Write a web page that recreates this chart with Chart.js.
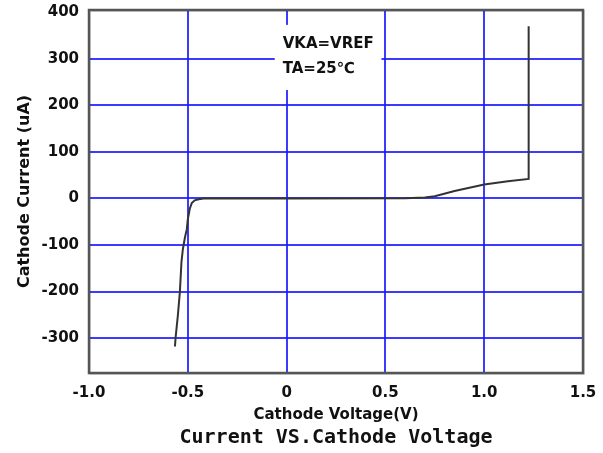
<!DOCTYPE html>
<html>
<head>
<meta charset="utf-8">
<script src="https://cdn.jsdelivr.net/npm/chart.js@4"></script>
<style>
  body { margin: 0; background: #fff; }
  #wrap { width: 603px; height: 453px; }
</style>
</head>
<body>
<div id="wrap"><canvas id="ivChart" width="603" height="453"></canvas></div>
<script>
// Curve (V, uA)
const voltage = [-0.565, -0.562, -0.55, -0.54, -0.532, -0.525, -0.515, -0.505, -0.5, -0.49, -0.48, -0.465, -0.445, -0.42, -0.4, 0.0, 0.6, 0.7, 0.75, 0.85, 1.0, 1.12, 1.225, 1.225];
const current = [-318, -300, -250, -200, -136, -109, -85, -66, -45, -22, -10, -4, -1.5, -0.3, 0, 0, 0.5, 2, 5, 16, 30, 37, 42, 370];

const xTicks = [-1.0, -0.5, 0, 0.5, 1.0, 1.5];
const xTickLabels = ["-1.0", "-0.5", "0", "0.5", "1.0", "1.5"];
const yTicks = [-300, -200, -100, 0, 100, 200, 300, 400];

const noteLines = ["VKA=VREF", "TA=25\u2103"];

const gridBlue = "rgba(25,25,255,0.85)";

// white note box with the test conditions, plus the plot frame
const notePlugin = {
  id: "note",
  beforeDatasetsDraw(chart) {
    const { ctx, scales: { x, y } } = chart;
    const left = x.getPixelForValue(-0.06);
    const right = x.getPixelForValue(0.48);
    const top = y.getPixelForValue(373);
    const bottom = y.getPixelForValue(233);
    ctx.save();
    ctx.fillStyle = "#fff";
    ctx.fillRect(left, top, right - left, bottom - top);
    ctx.fillStyle = "#111";
    ctx.font = "bold 15px 'DejaVu Sans'";
    ctx.textBaseline = "middle";
    ctx.textAlign = "left";
    const tx = x.getPixelForValue(-0.02);
    ctx.fillText(noteLines[0], tx, y.getPixelForValue(331));
    ctx.fillText(noteLines[1], tx, y.getPixelForValue(279));
    ctx.restore();
  },
  afterDraw(chart) {
    const { ctx, chartArea: a } = chart;
    ctx.save();
    ctx.strokeStyle = "rgba(0,0,0,0.15)";
    ctx.lineWidth = 2;
    ctx.strokeRect(a.left + 1, a.top + 1, a.right - a.left, a.bottom - a.top);
    ctx.strokeStyle = "#555";
    ctx.lineWidth = 2.5;
    ctx.strokeRect(a.left, a.top, a.right - a.left, a.bottom - a.top);
    ctx.restore();
  }
};

const ivChart = new Chart(document.getElementById("ivChart"), {
  type: "scatter",
  data: {
    datasets: [
      {
        data: voltage.map((v, i) => ({ x: v, y: current[i] })),
        showLine: true,
        borderColor: "#333",
        borderWidth: 2,
        pointRadius: 0,
        tension: 0,
      },
    ],
  },
  options: {
    responsive: false,
    animation: false,
    layout: { padding: { left: 0, right: 20, top: 10, bottom: 3 } },
    plugins: {
      legend: { display: false },
      tooltip: { enabled: false },
      title: {
        display: true,
        position: "bottom",
        fullSize: false,
        text: "Current VS.Cathode Voltage",
        color: "#111",
        font: { family: "'DejaVu Sans Mono'", size: 20, weight: "bold", lineHeight: 1.2 },
        padding: 0,
      },
    },
    scales: {
      x: {
        type: "linear",
        min: -1.0,
        max: 1.5,
        afterBuildTicks: (s) => { s.ticks = xTicks.map((v) => ({ value: v })); },
        afterFit: (s) => {
          s.height = 53;
          s.paddingLeft = 0;
          s.paddingRight = 0;
        },
        ticks: {
          callback: (v) => xTickLabels[xTicks.indexOf(v)],
          color: "#111",
          padding: 11,
          maxRotation: 0,
          font: { family: "'DejaVu Sans'", size: 15, weight: "bold" },
        },
        grid: { color: gridBlue, lineWidth: 2, drawTicks: false },
        border: { display: false },
        title: {
          display: true,
          text: "Cathode Voltage(V)",
          color: "#111",
          font: { family: "'DejaVu Sans'", size: 15, weight: "bold", lineHeight: 1.2 },
          padding: { top: 0, bottom: 2 },
        },
      },
      y: {
        type: "linear",
        min: -375,
        max: 405,
        afterBuildTicks: (s) => { s.ticks = yTicks.map((v) => ({ value: v })); },
        afterFit: (s) => {
          s.width = 89;
          s.paddingTop = 0;
          s.paddingBottom = 0;
        },
        ticks: {
          color: "#111",
          padding: 10,
          font: { family: "'DejaVu Sans'", size: 15, weight: "bold" },
        },
        grid: {
          color: (c) => (c.tick && c.tick.value === 400 ? "rgba(0,0,0,0)" : gridBlue),
          lineWidth: 2,
          drawTicks: false,
        },
        border: { display: false },
        title: {
          display: true,
          text: "Cathode Current (uA)",
          color: "#111",
          font: { family: "'DejaVu Sans'", size: 16, weight: "bold", lineHeight: 1.2 },
          padding: { top: 15, bottom: 0 },
        },
      },
    },
  },
  plugins: [notePlugin],
});
</script>
</body>
</html>
